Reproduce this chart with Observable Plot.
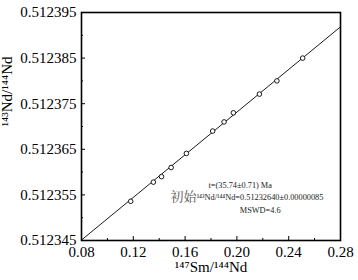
<!DOCTYPE html>
<html>
<head>
<meta charset="utf-8">
<script src="https://cdn.jsdelivr.net/npm/d3@7"></script>
<script src="https://cdn.jsdelivr.net/npm/@observablehq/plot@0.6"></script>
<style>
  html, body { margin: 0; padding: 0; background: #fff; }
  #chart svg { display: block; }
  #chart svg, #chart svg text { font-family: "Liberation Serif", "Times New Roman", serif; }
  #chart svg text.cjk, #chart svg .cjk text { font-family: "Noto Serif CJK SC", "Noto Sans CJK SC", serif; }
</style>
</head>
<body>
<div id="chart"></div>
<script>
// 147Sm/144Nd of samples
const smNd = [0.118, 0.1355, 0.1418, 0.1492, 0.161, 0.1813, 0.1901, 0.1973, 0.2174, 0.2309, 0.2508];
// 143Nd/144Nd of samples
const ndNd = [0.5123536, 0.5123578, 0.5123590, 0.5123610, 0.5123641, 0.5123690, 0.5123710, 0.5123730, 0.5123771, 0.5123800, 0.5123850];

// isochron parameters
const ageMa = 35.74;
const lambdaSm = 6.54e-12;
const initialNd = 0.51232640;

// axis ticks
const xMajor = [0.08, 0.12, 0.16, 0.20, 0.24, 0.28];
const xMinor = [0.10, 0.14, 0.18, 0.22, 0.26];
const yMajor = [0.512345, 0.512355, 0.512365, 0.512375, 0.512385, 0.512395];
const yMinor = [0.51235, 0.51236, 0.51237, 0.51238, 0.51239];

// texts
const xTitle = "¹⁴⁷Sm/¹⁴⁴Nd";
const yTitle = "¹⁴³Nd/¹⁴⁴Nd";
const line1 = "t=(35.74±0.71) Ma";
const line2a = "初始";
const line2b = "¹⁴³Nd/¹⁴⁴Nd=0.51232640±0.00000085";
const line3 = "MSWD=4.6";

const points = smNd.map((x, i) => ({x, y: ndNd[i]}));
const slope = Math.exp(lambdaSm * ageMa * 1e6) - 1;
const xDomain = [xMajor[0], xMajor[xMajor.length - 1]];
const isochron = xDomain.map(x => ({x, y: initialNd + slope * x}));

const chart = Plot.plot({
  width: 358,
  height: 280,
  marginLeft: 81,
  marginRight: 18,
  marginTop: 12,
  marginBottom: 40,
  style: {fontSize: "15px", background: "#fff", color: "#000"},
  x: {domain: xDomain},
  y: {domain: [yMajor[0], yMajor[yMajor.length - 1]]},
  marks: [
    Plot.line(isochron, {x: "x", y: "y", stroke: "#000", strokeWidth: 0.9}),
    Plot.dot(points, {x: "x", y: "y", r: 2.3, stroke: "#000", strokeWidth: 0.9, fill: "#fff"}),
    Plot.axisX(xMajor, {tickSize: -4, tickPadding: 10, tickFormat: d => d.toFixed(2), label: null, fontSize: 15}),
    Plot.axisX(xMinor, {tickSize: -2, tickFormat: () => "", label: null}),
    Plot.axisY(yMajor, {tickSize: -4, tickPadding: 9, tickFormat: d => d.toFixed(6), label: null, fontSize: 15}),
    Plot.axisY(yMinor, {tickSize: -2, tickFormat: () => "", label: null}),
    Plot.frame({stroke: "#000", strokeWidth: 1.6}),
    Plot.text([xTitle], {frameAnchor: "bottom", dy: 31, fontSize: 15}),
    Plot.text([yTitle], {frameAnchor: "left", dx: -74, rotate: -90, fontSize: 15}),
    Plot.text([line1], {x: 0.1781, y: 0.5123571, textAnchor: "start", fontSize: 8.3, fill: "#222"}),
    Plot.text([line2a], {x: 0.1689, y: 0.5123545, textAnchor: "end", fontSize: 13, fill: "#555", className: "cjk"}),
    Plot.text([line2b], {x: 0.1689, y: 0.5123545, textAnchor: "start", fontSize: 8.3, fill: "#222"}),
    Plot.text([line3], {x: 0.2022, y: 0.5123517, textAnchor: "start", fontSize: 8.3, fill: "#222"})
  ]
});
document.getElementById("chart").appendChild(chart);
</script>
</body>
</html>
